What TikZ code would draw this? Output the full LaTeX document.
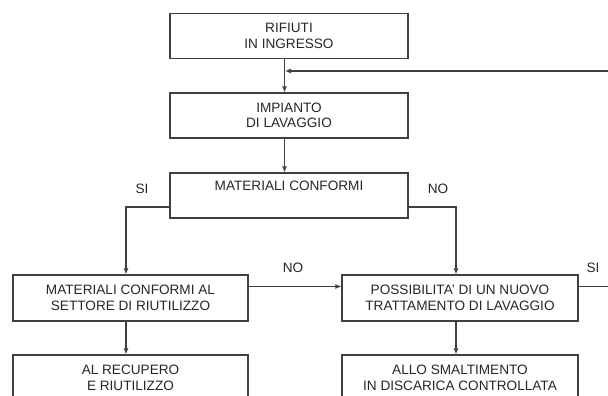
\documentclass[tikz,border=0pt]{standalone}
\usepackage{fontspec}
\setmainfont{Liberation Sans}
\usetikzlibrary{arrows.meta,calc}
\begin{document}
\begin{tikzpicture}[x=1pt,y=-1pt,
  box/.style={draw=black!75, line width=1.1pt, minimum width=236pt, minimum height=46pt, inner sep=0pt, align=center, font=\fontsize{13.6}{15.5}\selectfont, text=black!85},
  lbl/.style={font=\fontsize{13.6}{15.5}\selectfont, text=black!85, inner sep=0pt},
  conn/.style={draw=black!75, line width=1.1pt},
  arr/.style={conn, -{Latex[length=6pt,width=5pt]}}]
\useasboundingbox (0,0) rectangle (608,396);
% boxes
\node[box, minimum width=238pt, minimum height=45pt] (b1) at (289,36) {RIFIUTI\\IN INGRESSO};
\node[box, minimum width=238pt, minimum height=45pt] (b2) at (289,115.5) {IMPIANTO\\DI LAVAGGIO};
\node[box, minimum width=238pt, minimum height=45pt] (b3) at (289,195.5) {MATERIALI CONFORMI\\ \strut};
\node[box, minimum width=235pt] (b4) at (130.5,298) {MATERIALI CONFORMI AL\\SETTORE DI RIUTILIZZO};
\node[box] (b5) at (460,298) {POSSIBILITA' DI UN NUOVO\\TRATTAMENTO DI LAVAGGIO};
\node[box, minimum width=235pt] (b6) at (130.5,378) {AL RECUPERO\\E RIUTILIZZO};
\node[box] (b7) at (460,378) {ALLO SMALTIMENTO\\IN DISCARICA CONTROLLATA};
% helper coordinates
\coordinate (cx) at (284.5,0);
\coordinate (j) at (285,71);
\coordinate (e) at (609,0);
\coordinate (yl) at (0,207);
\coordinate (r5) at (0,286.5);
\coordinate (xl) at (126,0);
\coordinate (xr) at (456,0);
% connectors
\draw[arr] (b1.south -| cx) -- (b2.north -| cx);
\draw[arr] (b2.south -| cx) -- (b3.north -| cx);
\draw[arr] (b3.west |- yl) -| (b4.north -| xl);
\draw[arr] (b3.east |- yl) -| (b5.north -| xr);
\draw[arr] (b4.east |- r5) -- (b5.west |- r5);
\draw[arr] (b4.south -| xl) -- (b6.north -| xl);
\draw[arr] (b5.south -| xr) -- (b7.north -| xr);
\draw[arr] (b5.east |- r5) -- (e |- r5) -- (e |- j) -- (j);
% labels
\node[lbl] (si1) at (142,189) {SI};
\node[lbl] (no1) at (438,189) {NO};
\node[lbl] (no2) at (293,268) {NO};
\node[lbl] (si2) at (593,268) {SI};
\end{tikzpicture}
\end{document}
